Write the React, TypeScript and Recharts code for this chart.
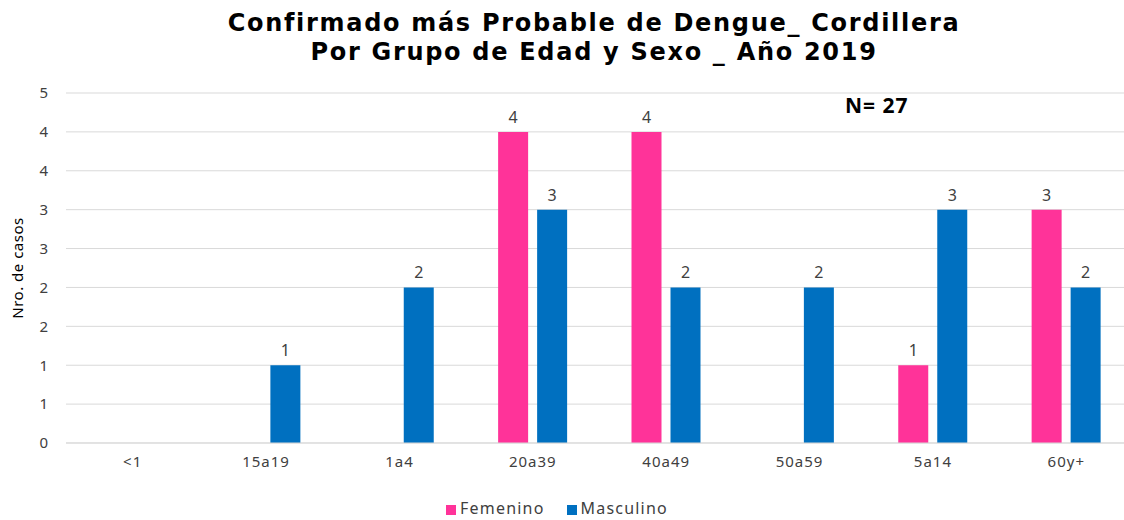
import React from 'react';
import { BarChart, Bar, XAxis, YAxis, CartesianGrid, Legend, LabelList } from 'recharts';

const grupos = ['<1', '15a19', '1a4', '20a39', '40a49', '50a59', '5a14', '60y+'];
const femenino = [null, null, null, 4, 4, null, 1, 3];
const masculino = [null, 1, 2, 3, 2, 2, 3, 2];
const yTicks = [0, 0.5, 1, 1.5, 2, 2.5, 3, 3.5, 4, 4.5];
const titulo = ['Confirmado más Probable de Dengue_ Cordillera', 'Por Grupo de Edad y Sexo _ Año 2019'];

const data = grupos.map((g, i) => ({ grupo: g, Femenino: femenino[i], Masculino: masculino[i] }));

const FONT = '"Noto Sans", "Open Sans", sans-serif';
const TEXT = '#404040';

const titleStyle: React.CSSProperties = {
  position: 'absolute', left: 0, width: 1188, textAlign: 'center', fontWeight: 700, fontSize: 24,
  lineHeight: '28px', letterSpacing: 1.7, color: '#000', fontFamily: '"DejaVu Sans", sans-serif', whiteSpace: 'nowrap',
};

export default function App() {
  return (
    <div style={{ position: 'absolute', left: 0, top: 0, width: 1124, height: 520, overflow: 'hidden', background: '#fff', fontFamily: FONT }}>
      <div style={{ ...titleStyle, top: 9 }}>{titulo[0]}</div>
      <div style={{ ...titleStyle, top: 38 }}>{titulo[1]}</div>
      <div style={{ position: 'absolute', left: 845, top: 91, fontWeight: 700, fontSize: 21, letterSpacing: 1, color: '#000', fontFamily: '"Open Sans", sans-serif' }}>
        N= 27
      </div>
      <BarChart
        width={1140}
        height={520}
        data={data}
        margin={{ top: 93, right: 7, left: 0, bottom: 25 }}
        barCategoryGap={32}
        barGap={9}
      >
        <CartesianGrid vertical={false} stroke="#d9d9d9" />
        <XAxis
          dataKey="grupo"
          axisLine={{ stroke: '#d9d9d9' }}
          tickLine={false}
          tickMargin={7}
          tick={{ fontSize: 15, fill: TEXT, fontFamily: FONT, letterSpacing: 1 }}
        />
        <YAxis
          width={66}
          domain={[0, 4.5]}
          ticks={yTicks}
          interval={0}
          axisLine={false}
          tickLine={false}
          tickMargin={12}
          tickFormatter={(v: number) => String(Math.round(v))}
          tick={{ fontSize: 15, fill: TEXT, fontFamily: FONT }}
          label={{ value: 'Nro. de casos', angle: -90, position: 'insideLeft', offset: 18, style: { fontSize: 15, fill: '#000', fontFamily: FONT, textAnchor: 'middle', letterSpacing: 0.5 } }}
        />
        <Legend
          verticalAlign="bottom"
          iconType="square"
          iconSize={10}
          wrapperStyle={{ fontSize: 16, fontFamily: FONT, left: 428, width: 280, top: 497, letterSpacing: 1.2 }}
          formatter={(v: string) => <span style={{ color: TEXT, marginRight: 12 }}>{v}</span>}
        />
        <Bar dataKey="Femenino" fill="#FF3399" isAnimationActive={false}>
          <LabelList dataKey="Femenino" position="top" offset={9} style={{ fontSize: 16, fill: TEXT, fontFamily: FONT }} />
        </Bar>
        <Bar dataKey="Masculino" fill="#0070C0" isAnimationActive={false}>
          <LabelList dataKey="Masculino" position="top" offset={9} style={{ fontSize: 16, fill: TEXT, fontFamily: FONT }} />
        </Bar>
      </BarChart>
    </div>
  );
}
